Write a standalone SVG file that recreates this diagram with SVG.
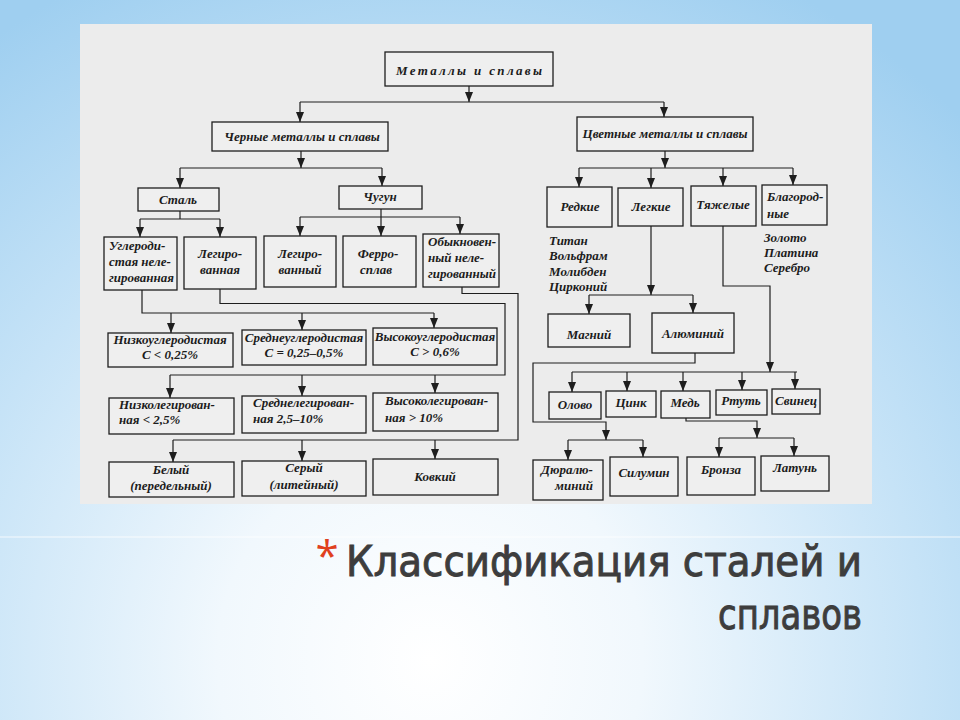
<svg xmlns="http://www.w3.org/2000/svg" width="960" height="720" viewBox="0 0 960 720">
<defs>
<radialGradient id="bg" cx="430" cy="660" r="760" gradientUnits="userSpaceOnUse">
<stop offset="0" stop-color="#ffffff"/>
<stop offset="0.28" stop-color="#f1f8fd"/>
<stop offset="0.65" stop-color="#c6e3f7"/>
<stop offset="1" stop-color="#9fcff0"/>
</radialGradient>
<marker id="ah" viewBox="0 0 10 8" refX="10" refY="4" markerWidth="10" markerHeight="8" markerUnits="userSpaceOnUse" orient="auto">
<path d="M0,0L10,4L0,8Z" fill="#1e1e1e"/>
</marker>
<style>
.box{fill:#efefef;stroke:#1e1e1e;stroke-width:1.3}
.t{font-family:"Liberation Serif","DejaVu Serif",serif;font-style:italic;font-weight:bold;font-size:13px;fill:#1c1c1c}
.c{text-anchor:middle}
.ln{fill:none;stroke:#1e1e1e;stroke-width:1.2}
.ar{marker-end:url(#ah)}
.title{font-family:"DejaVu Sans","Liberation Sans",sans-serif;font-size:43px;text-anchor:end;fill:#3d3d3d;stroke:#3d3d3d;stroke-width:1}
</style>
</defs>
<rect x="0" y="0" width="960" height="720" fill="url(#bg)"/>
<line x1="0" y1="537" x2="960" y2="537" stroke="#ffffff" stroke-opacity="0.8" stroke-width="1.2"/>
<rect x="80" y="24" width="792" height="480" fill="#ececec"/>

<g id="connectors">
<path class="ln ar" d="M469,86V102"/>
<path class="ln" d="M300,102H664"/>
<path class="ln ar" d="M300,102V122"/>
<path class="ln ar" d="M664,102V117"/>
<path class="ln ar" d="M301,151V168"/>
<path class="ln" d="M180,168H382"/>
<path class="ln ar" d="M180,168V188"/>
<path class="ln ar" d="M382,168V186"/>
<path class="ln" d="M180,211V219M140,219H220"/>
<path class="ln ar" d="M140,219V237"/>
<path class="ln ar" d="M220,219V237"/>
<path class="ln" d="M381,209V217M300,217H460"/>
<path class="ln ar" d="M300,217V236"/>
<path class="ln ar" d="M381,217V236"/>
<path class="ln ar" d="M460,217V234"/>
<path class="ln" d="M142,290V313H434"/>
<path class="ln ar" d="M171,313V333"/>
<path class="ln ar" d="M302,313V330"/>
<path class="ln ar" d="M434,313V328"/>
<path class="ln" d="M220,289V303.5H505V375H170"/>
<path class="ln ar" d="M170,375V398"/>
<path class="ln ar" d="M302,375V396"/>
<path class="ln ar" d="M435,375V393"/>
<path class="ln" d="M462,287V293.5H518V440H173"/>
<path class="ln ar" d="M173,440V462"/>
<path class="ln ar" d="M302,440V461"/>
<path class="ln ar" d="M435,440V459"/>
<path class="ln ar" d="M665,151V168"/>
<path class="ln" d="M579,168H793"/>
<path class="ln ar" d="M579,168V187"/>
<path class="ln ar" d="M651,168V188"/>
<path class="ln ar" d="M723,168V186"/>
<path class="ln ar" d="M793,168V185"/>
<path class="ln ar" d="M651,226V295"/>
<path class="ln" d="M589,295H693"/>
<path class="ln ar" d="M589,295V314"/>
<path class="ln ar" d="M693,295V313"/>
<path class="ln ar" d="M723,226V286H770V372"/>
<path class="ln" d="M572,372H797"/>
<path class="ln ar" d="M572,372V392"/>
<path class="ln ar" d="M627,372V391"/>
<path class="ln ar" d="M683,372V391"/>
<path class="ln ar" d="M742,372V390"/>
<path class="ln ar" d="M795,372V389"/>
<path class="ln ar" d="M695,353V363H533V422H606V440"/>
<path class="ln" d="M568,440H643"/>
<path class="ln ar" d="M568,440V460"/>
<path class="ln ar" d="M643,440V457"/>
<path class="ln ar" d="M686,418V421H757V438"/>
<path class="ln" d="M719,438H794"/>
<path class="ln ar" d="M719,438V457"/>
<path class="ln ar" d="M794,438V456"/>
</g>

<g id="n-metals"><rect class="box" x="385" y="52" width="168" height="34"/><text class="t c" x="469" y="75" font-size="16" textLength="146" lengthAdjust="spacing">Металлы и сплавы</text></g>
<g id="n-ferrous"><rect class="box" x="212" y="122" width="176" height="29"/><text class="t c" x="302" y="141">Черные металлы и сплавы</text></g>
<g id="n-nonferrous"><rect class="box" x="577" y="117" width="176" height="34"/><text class="t c" x="665" y="138">Цветные металлы и сплавы</text></g>
<g id="n-steel"><rect class="box" x="138" y="188" width="81" height="23"/><text class="t c" x="178" y="204">Сталь</text></g>
<g id="n-castiron"><rect class="box" x="339" y="186" width="83" height="23"/><text class="t c" x="380" y="201">Чугун</text></g>
<g id="n-carbon"><rect class="box" x="104" y="237" width="73" height="53"/><text class="t" x="109" y="250">Углероди-</text><text class="t" x="109" y="266">стая неле-</text><text class="t" x="109" y="282">гированная</text></g>
<g id="n-alloyed-steel"><rect class="box" x="184" y="237" width="72" height="52"/><text class="t c" x="220" y="258">Легиро-</text><text class="t c" x="220" y="274">ванная</text></g>
<g id="n-alloyed-iron"><rect class="box" x="264" y="236" width="72" height="51"/><text class="t c" x="300" y="258">Легиро-</text><text class="t c" x="300" y="274">ванный</text></g>
<g id="n-ferroalloy"><rect class="box" x="343" y="236" width="73" height="51"/><text class="t c" x="378" y="258">Ферро-</text><text class="t c" x="376" y="274">сплав</text></g>
<g id="n-ordinary"><rect class="box" x="423" y="234" width="76" height="53"/><text class="t" x="428" y="246">Обыкновен-</text><text class="t" x="428" y="262">ный неле-</text><text class="t" x="428" y="278">гированный</text></g>
<g id="n-lowc"><rect class="box" x="108" y="333" width="125" height="34"/><text class="t c" x="170" y="344">Низкоуглеродистая</text><text class="t c" x="170" y="359">C &lt; 0,25%</text></g>
<g id="n-midc"><rect class="box" x="242" y="330" width="124" height="35"/><text class="t c" x="304" y="342">Среднеуглеродистая</text><text class="t c" x="304" y="357">C = 0,25–0,5%</text></g>
<g id="n-highc"><rect class="box" x="373" y="328" width="124" height="37"/><text class="t c" x="435" y="341">Высокоуглеродистая</text><text class="t c" x="435" y="356">C &gt; 0,6%</text></g>
<g id="n-lowalloy"><rect class="box" x="109" y="398" width="125" height="36"/><text class="t" x="119" y="409">Низколегирован-</text><text class="t" x="119" y="424">ная &lt; 2,5%</text></g>
<g id="n-midalloy"><rect class="box" x="242" y="396" width="124" height="37"/><text class="t" x="253" y="407">Среднелегирован-</text><text class="t" x="253" y="423">ная  2,5–10%</text></g>
<g id="n-highalloy"><rect class="box" x="373" y="393" width="125" height="38"/><text class="t" x="385" y="405">Высоколегирован-</text><text class="t" x="385" y="422">ная &gt; 10%</text></g>
<g id="n-white"><rect class="box" x="109" y="462" width="125" height="35"/><text class="t c" x="171" y="474">Белый</text><text class="t c" x="171" y="490">(передельный)</text></g>
<g id="n-grey"><rect class="box" x="242" y="461" width="124" height="35"/><text class="t c" x="304" y="472">Серый</text><text class="t c" x="304" y="489">(литейный)</text></g>
<g id="n-malleable"><rect class="box" x="373" y="459" width="125" height="36"/><text class="t c" x="435" y="481">Ковкий</text></g>

<g id="n-rare"><rect class="box" x="547" y="187" width="65" height="40"/><text class="t c" x="580" y="211">Редкие</text></g>
<g id="n-light"><rect class="box" x="618" y="188" width="65" height="38"/><text class="t c" x="651" y="211">Легкие</text></g>
<g id="n-heavy"><rect class="box" x="691" y="186" width="65" height="40"/><text class="t c" x="723" y="209">Тяжелые</text></g>
<g id="n-noble"><rect class="box" x="762" y="185" width="65" height="40"/><text class="t" x="767" y="201">Благород-</text><text class="t" x="767" y="218">ные</text></g>
<g id="n-rare-list"><text class="t" x="549" y="245">Титан</text><text class="t" x="549" y="260">Вольфрам</text><text class="t" x="549" y="276">Молибден</text><text class="t" x="549" y="291">Цирконий</text></g>
<g id="n-noble-list"><text class="t" x="764" y="242">Золото</text><text class="t" x="764" y="257">Платина</text><text class="t" x="764" y="272">Серебро</text></g>
<g id="n-magnesium"><rect class="box" x="548" y="314" width="82" height="33"/><text class="t c" x="589" y="339">Магний</text></g>
<g id="n-aluminium"><rect class="box" x="652" y="313" width="82" height="40"/><text class="t c" x="693" y="338">Алюминий</text></g>
<g id="n-tin"><rect class="box" x="549" y="392" width="52" height="27"/><text class="t c" x="575" y="409">Олово</text></g>
<g id="n-zinc"><rect class="box" x="606" y="391" width="50" height="26"/><text class="t c" x="631" y="407">Цинк</text></g>
<g id="n-copper"><rect class="box" x="661" y="391" width="49" height="27"/><text class="t c" x="685" y="407">Медь</text></g>
<g id="n-mercury"><rect class="box" x="716" y="390" width="51" height="25"/><text class="t c" x="741" y="405">Ртуть</text></g>
<g id="n-lead"><rect class="box" x="772" y="389" width="48" height="25"/><text class="t c" x="796" y="405">Свинец</text></g>
<g id="n-duralumin"><rect class="box" x="533" y="460" width="70" height="40"/><text class="t c" x="567" y="474">Дюралю-</text><text class="t c" x="574" y="490">миний</text></g>
<g id="n-silumin"><rect class="box" x="610" y="457" width="68" height="39"/><text class="t c" x="644" y="477">Силумин</text></g>
<g id="n-bronze"><rect class="box" x="687" y="457" width="68" height="38"/><text class="t c" x="721" y="474">Бронза</text></g>
<g id="n-brass"><rect class="box" x="761" y="456" width="68" height="35"/><text class="t c" x="795" y="472">Латунь</text></g>

<g id="title">
<text x="327" y="571" font-family="'Open Sans','DejaVu Sans',sans-serif" font-size="42" text-anchor="middle" fill="#e0401e">*</text>
<text class="title" x="862" y="576" textLength="516" lengthAdjust="spacingAndGlyphs">Классификация сталей и</text>
<text class="title" x="862" y="629" textLength="144" lengthAdjust="spacingAndGlyphs">сплавов</text>
</g>
</svg>
